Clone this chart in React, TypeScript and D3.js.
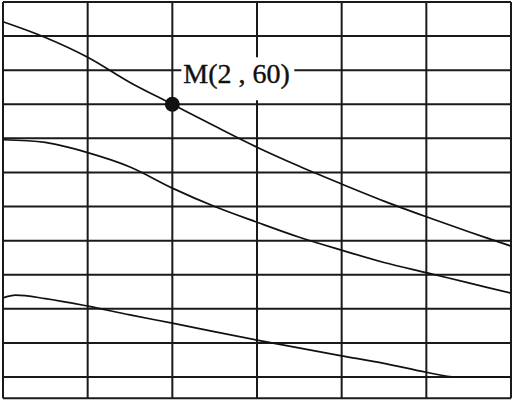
import React from "react";
import * as d3 from "d3";

const xGrid = [0, 1, 2, 3, 4, 5, 6];
const yGrid = [75, 70, 65, 60, 55, 50, 45, 40, 35, 30, 25, 20];
const yFrameBottom = 16.9;

const curveTopX = [0, 0.5, 1, 1.5, 2, 2.5, 3, 3.5, 4, 4.5, 5, 5.5, 6];
const curveTopY = [72.1, 69.8, 66.9, 63.2, 60, 56.8, 53.7, 50.9, 48.3, 45.8, 43.5, 41.3, 39.2];

const curveMidX = [0, 0.5, 1, 1.5, 2, 2.5, 3, 3.5, 4, 4.5, 5, 5.5, 6];
const curveMidY = [54.8, 54.4, 52.9, 50.8, 47.7, 45.0, 42.7, 40.5, 38.6, 36.8, 35.3, 33.8, 32.3];

const curveLowX = [0, 0.15, 0.5, 1, 1.5, 2, 3, 4, 4.5, 5, 5.35, 6];
const curveLowY = [31.6, 32.0, 31.5, 30.4, 29.1, 27.9, 25.4, 23.1, 22.0, 20.7, 20.0, 20.0];

const pointM = { x: 2, y: 60, label: "M(2 , 60)" };

export default function App() {
  const W = 515;
  const H = 402;
  const x = d3.scaleLinear().domain([0, 6]).range([3, 511]);
  const y = d3.scaleLinear().domain([75, 20]).range([2, 377]);

  const smooth = d3
    .line<[number, number]>()
    .x((d) => x(d[0]))
    .y((d) => y(d[1]))
    .curve(d3.curveCatmullRom.alpha(0.5));
  const mono = d3
    .line<[number, number]>()
    .x((d) => x(d[0]))
    .y((d) => y(d[1]))
    .curve(d3.curveMonotoneX);

  const curves = [
    smooth(curveTopX.map((v, i) => [v, curveTopY[i]] as [number, number])),
    smooth(curveMidX.map((v, i) => [v, curveMidY[i]] as [number, number])),
    mono(curveLowX.map((v, i) => [v, curveLowY[i]] as [number, number])),
  ];

  const gridColor = "#1a1a1a";
  const mx = x(pointM.x);
  const my = y(pointM.y);

  return (
    <svg
      width={W}
      height={H}
      style={{ position: "absolute", left: 0, top: 0, background: "#fff" }}
    >
      <rect x={0} y={0} width={W} height={H} fill="#fff" />
      {xGrid.map((v) => (
        <line
          key={"vx" + v}
          x1={x(v)}
          x2={x(v)}
          y1={y(yGrid[0])}
          y2={y(yFrameBottom)}
          stroke={gridColor}
          strokeWidth={2}
        />
      ))}
      {yGrid.map((v) => (
        <line
          key={"hy" + v}
          x1={x(0)}
          x2={x(6)}
          y1={y(v)}
          y2={y(v)}
          stroke={gridColor}
          strokeWidth={2}
        />
      ))}
      <line
        x1={x(0)}
        x2={x(6)}
        y1={y(yFrameBottom)}
        y2={y(yFrameBottom)}
        stroke={gridColor}
        strokeWidth={2}
      />
      {curves.map((d, i) => (
        <path key={i} d={d || ""} fill="none" stroke="#111" strokeWidth={1.7} />
      ))}
      <rect x={mx + 9} y={my - 47} width={113} height={43} fill="#fff" />
      <text
        x={mx + 11}
        y={my - 21}
        fontFamily="'Liberation Serif', 'DejaVu Serif', serif"
        fontSize={28}
        fill="#111"
        stroke="#111"
        strokeWidth={0.4}
      >
        {pointM.label}
      </text>
      <circle cx={mx} cy={my} r={7.5} fill="#111" />
    </svg>
  );
}
